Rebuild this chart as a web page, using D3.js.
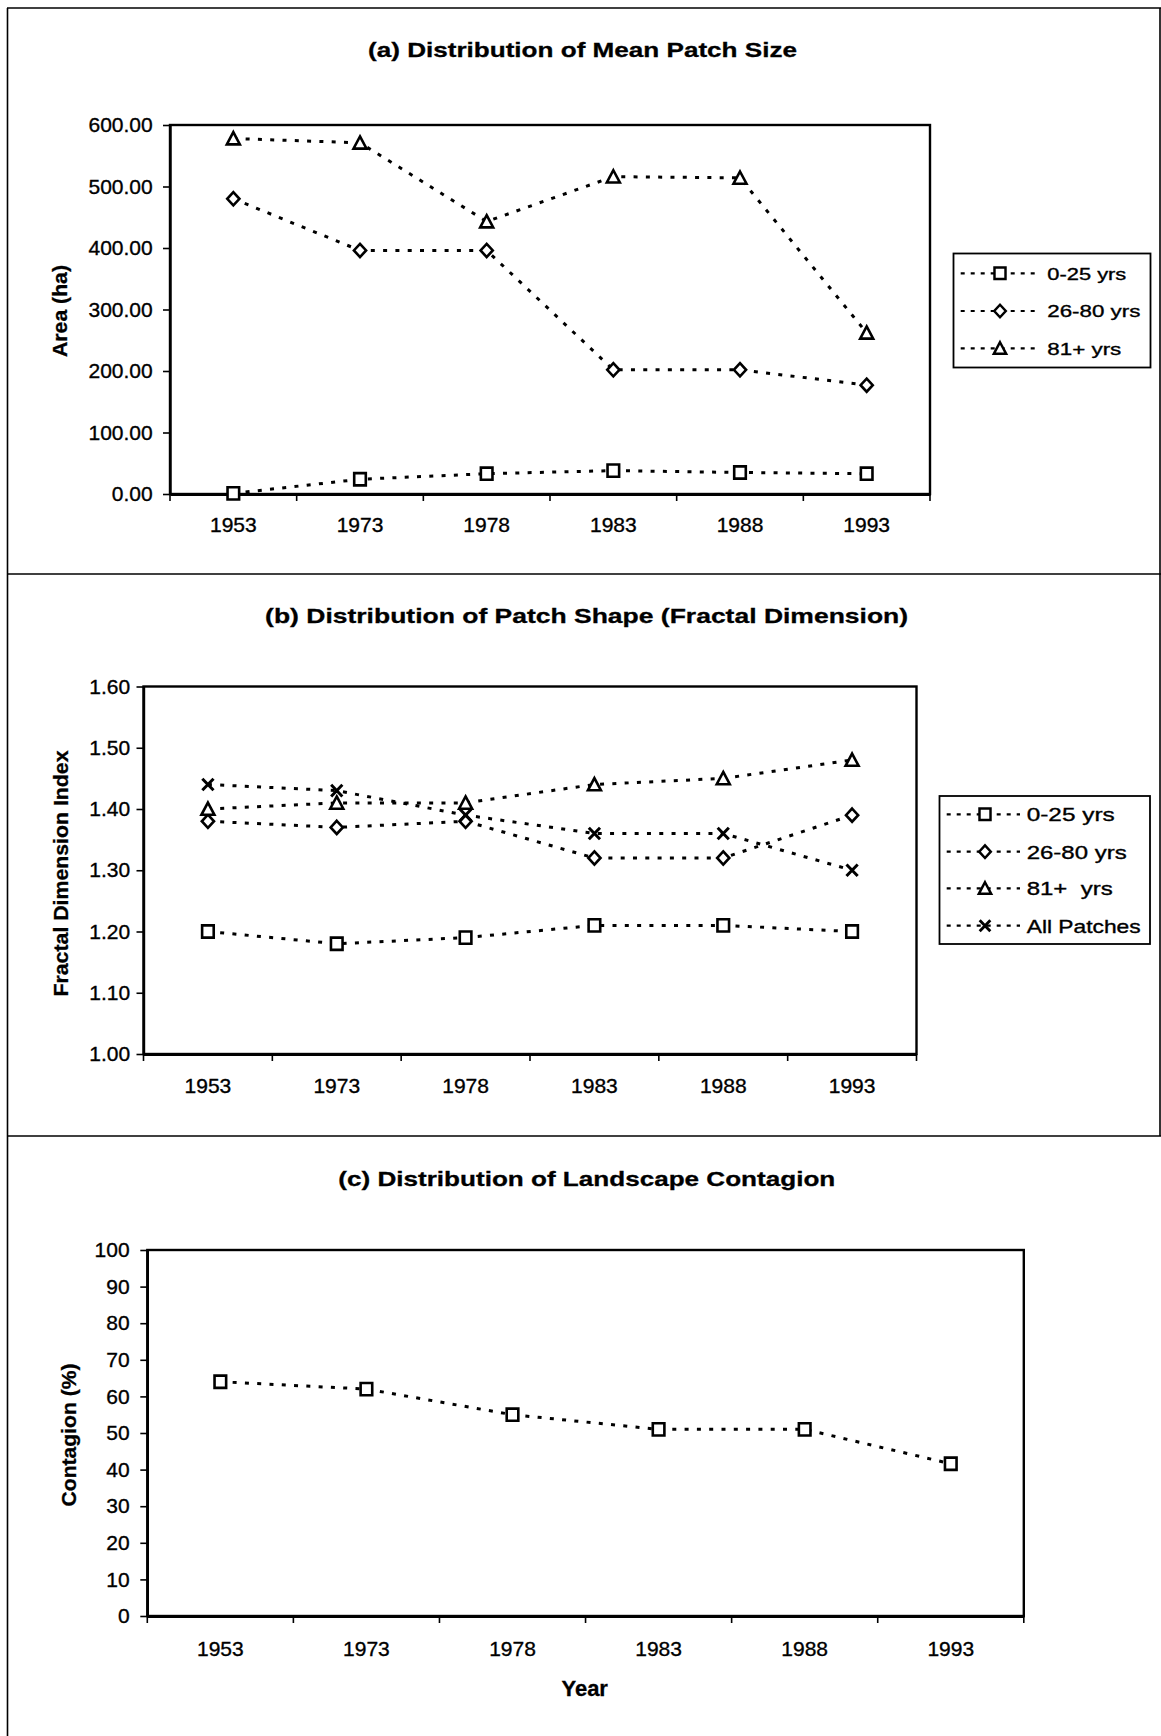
<!DOCTYPE html>
<html>
<head>
<meta charset="utf-8">
<script src="https://cdn.jsdelivr.net/npm/d3@7"></script>
<style>
  html, body { margin: 0; padding: 0; background: #fff; }
  svg { display: block; }
  text { white-space: pre; }
</style>
</head>
<body>
<svg id="chart" width="1161" height="1736"></svg>
<script>
// ---- data ----
const years = ["1953", "1973", "1978", "1983", "1988", "1993"];

// (a) mean patch size, hectares
const sizeYoung = [1, 24, 33, 38, 35, 33];
const sizeMid   = [480, 396, 396, 202, 202, 177];
const sizeOld   = [578, 571, 443, 516, 514, 262];
const sizeTicks = [0, 100, 200, 300, 400, 500, 600];

// (b) fractal dimension index
const shapeYoung = [1.20, 1.18, 1.19, 1.21, 1.21, 1.20];
const shapeMid   = [1.38, 1.37, 1.38, 1.32, 1.32, 1.39];
const shapeOld   = [1.40, 1.41, 1.41, 1.44, 1.45, 1.48];
const shapeAll   = [1.44, 1.43, 1.39, 1.36, 1.36, 1.30];
const shapeTicks = [1.00, 1.10, 1.20, 1.30, 1.40, 1.50, 1.60];

// (c) landscape contagion, percent
const contagion = [64, 62, 55, 51, 51, 41.6];
const contagionTicks = [0, 10, 20, 30, 40, 50, 60, 70, 80, 90, 100];

const ageLabels = ["0-25 yrs", "26-80 yrs", "81+ yrs"];
const ageLabelsB = ["0-25 yrs", "26-80 yrs", "81+  yrs", "All Patches"];

// ---- drawing ----
const FONT = "Arial, 'Liberation Sans', Helvetica, sans-serif";
const svg = d3.select("#chart");
svg.append("rect").attr("width", 1161).attr("height", 1736).attr("fill", "#fff");

// page frame and panel separators
const frame = svg.append("g").attr("stroke", "#000").attr("stroke-width", 1.6).attr("fill", "none");
[8, 574, 1136].forEach(yy => frame.append("line").attr("x1", 7).attr("x2", 1161).attr("y1", yy).attr("y2", yy));
frame.append("line").attr("x1", 7.5).attr("x2", 7.5).attr("y1", 8).attr("y2", 1736);
frame.append("line").attr("x1", 1160).attr("x2", 1160).attr("y1", 8).attr("y2", 1136);

// marker shapes centred on (0,0)
function markerPath(kind) {
  const p = d3.path();
  if (kind === "square") {
    p.rect(-5.8, -6.1, 11.6, 12.2);
  } else if (kind === "diamond") {
    p.moveTo(0, -6.6); p.lineTo(6.1, 0); p.lineTo(0, 6.6); p.lineTo(-6.1, 0); p.closePath();
  } else if (kind === "triangle") {
    p.moveTo(0, -6.4); p.lineTo(6.5, 5.8); p.lineTo(-6.5, 5.8); p.closePath();
  } else if (kind === "x") {
    p.moveTo(-5.6, -5.8); p.lineTo(5.6, 5.8); p.moveTo(5.6, -5.8); p.lineTo(-5.6, 5.8);
  }
  return p.toString();
}
function drawMarker(g, kind, cx, cy, scale = 1) {
  g.append("path")
    .attr("d", markerPath(kind))
    .attr("transform", `translate(${cx},${cy}) scale(${scale})`)
    .attr("fill", kind === "x" ? "none" : "#fff")
    .attr("stroke", "#000")
    .attr("stroke-width", kind === "x" ? 3 : 2.6)
    .attr("stroke-linejoin", "miter");
}

const DOTS = "4 8.3";

// slightly heavy text, like a printed page
function ink(sel, w) {
  return sel.attr("fill", "#000").attr("stroke", "#000").attr("stroke-width", w);
}

function drawPanel(cfg) {
  const g = svg.append("g");
  const x = d3.scaleBand().domain(years).range([cfg.x0, cfg.x1]).padding(0);
  const y = d3.scaleLinear().domain(cfg.domain).range([cfg.y1, cfg.y0]);
  const cx = d => x(d) + x.bandwidth() / 2;

  // title
  ink(g.append("text")
    .attr("x", cfg.titleX).attr("y", cfg.titleY)
    .attr("text-anchor", "middle")
    .attr("font-family", FONT).attr("font-weight", "bold").attr("font-size", 21)
    .attr("textLength", cfg.titleW).attr("lengthAdjust", "spacingAndGlyphs")
    .text(cfg.title), 0.3);

  // plot frame
  g.append("rect")
    .attr("x", cfg.x0).attr("y", cfg.y0)
    .attr("width", cfg.x1 - cfg.x0).attr("height", cfg.y1 - cfg.y0)
    .attr("fill", "none").attr("stroke", "#000").attr("stroke-width", 2.4);

  // y axis
  const yAxis = d3.axisLeft(y).tickValues(cfg.ticks).tickFormat(d3.format(cfg.fmt))
    .tickSizeInner(7).tickSizeOuter(0).tickPadding(cfg.yPad);
  const ya = g.append("g").attr("transform", `translate(${cfg.x0},0)`).call(yAxis);
  ya.select(".domain").attr("stroke-width", 2.4);
  ya.selectAll(".tick line").attr("stroke-width", 1.6);
  ink(ya.selectAll("text").attr("font-family", FONT).attr("font-size", 21), 0.35);

  // x axis labels at category centres
  const xAxis = d3.axisBottom(x).tickSize(0).tickPadding(cfg.xPad);
  const xa = g.append("g").attr("transform", `translate(0,${cfg.y1})`).call(xAxis);
  xa.select(".domain").attr("stroke-width", 2.8);
  ink(xa.selectAll("text").attr("font-family", FONT).attr("font-size", 21), 0.35);

  // x tick marks at category boundaries
  const bounds = years.map(d => x(d)).concat([cfg.x1]);
  g.append("g").selectAll("line").data(bounds).join("line")
    .attr("x1", d => d).attr("x2", d => d)
    .attr("y1", cfg.y1).attr("y2", cfg.y1 + 7)
    .attr("stroke", "#000").attr("stroke-width", 1.6);

  // y axis title
  ink(g.append("text")
    .attr("transform", `translate(${cfg.yTitleX},${cfg.yTitleY}) rotate(-90)`)
    .attr("text-anchor", "middle")
    .attr("font-family", FONT).attr("font-weight", "bold").attr("font-size", 21)
    .attr("textLength", cfg.yTitleW).attr("lengthAdjust", "spacingAndGlyphs")
    .text(cfg.yTitle), 0.3);

  // series
  const line = d3.line().x((v, i) => cx(years[i])).y(v => y(v));
  cfg.series.forEach(s => {
    g.append("path")
      .attr("d", line(s.values))
      .attr("fill", "none").attr("stroke", "#000")
      .attr("stroke-width", 3).attr("stroke-dasharray", DOTS);
  });
  cfg.series.forEach(s => {
    s.values.forEach((v, i) => drawMarker(g, s.marker, cx(years[i]), y(v)));
  });

  // legend
  if (cfg.legend) {
    const L = cfg.legend;
    g.append("rect")
      .attr("x", L.x).attr("y", L.y).attr("width", L.w).attr("height", L.h)
      .attr("fill", "#fff").attr("stroke", "#000").attr("stroke-width", 1.8);
    cfg.series.forEach((s, i) => {
      const ry = L.rows[i];
      g.append("line")
        .attr("x1", L.lineX0).attr("x2", L.lineX1).attr("y1", ry).attr("y2", ry)
        .attr("stroke", "#000").attr("stroke-width", 2.2).attr("stroke-dasharray", "4 6");
      drawMarker(g, s.marker, L.markerX, ry, 0.95);
      ink(g.append("text")
        .attr("x", L.textX).attr("y", ry + L.baseOff)
        .attr("font-family", FONT).attr("font-size", L.fontSize)
        .attr("textLength", L.widths[i]).attr("lengthAdjust", "spacingAndGlyphs")
        .text(s.label), 0.35);
    });
  }

  if (cfg.xTitle) {
    ink(g.append("text")
      .attr("x", cfg.xTitleX).attr("y", cfg.xTitleY)
      .attr("text-anchor", "middle")
      .attr("font-family", FONT).attr("font-weight", "bold").attr("font-size", 22)
      .text(cfg.xTitle), 0.3);
  }
}

// (a) mean patch size
drawPanel({
  title: "(a) Distribution of Mean Patch Size", titleX: 582.5, titleY: 57.3, titleW: 429,
  x0: 170, x1: 930, y0: 125, y1: 494,
  domain: [0, 600], ticks: sizeTicks, fmt: ".2f", yPad: 10.3, xPad: 22.6,
  yTitle: "Area (ha)", yTitleX: 67, yTitleY: 311, yTitleW: 92,
  series: [
    { label: ageLabels[0], values: sizeYoung, marker: "square" },
    { label: ageLabels[1], values: sizeMid, marker: "diamond" },
    { label: ageLabels[2], values: sizeOld, marker: "triangle" }
  ],
  legend: { x: 953.5, y: 253.5, w: 197, h: 114, rows: [273.3, 311, 348.3],
            lineX0: 960.7, lineX1: 1037, markerX: 1000, textX: 1047.3,
            widths: [79, 93, 74], fontSize: 17, baseOff: 6.3 }
});

// (b) patch shape
drawPanel({
  title: "(b) Distribution of Patch Shape (Fractal Dimension)", titleX: 586.6, titleY: 623, titleW: 643,
  x0: 143.5, x1: 916.5, y0: 686.5, y1: 1054,
  domain: [1, 1.6], ticks: shapeTicks, fmt: ".2f", yPad: 6.4, xPad: 23.6,
  yTitle: "Fractal Dimension Index", yTitleX: 67.5, yTitleY: 873.5, yTitleW: 246,
  series: [
    { label: ageLabelsB[0], values: shapeYoung, marker: "square" },
    { label: ageLabelsB[1], values: shapeMid, marker: "diamond" },
    { label: ageLabelsB[2], values: shapeOld, marker: "triangle" },
    { label: ageLabelsB[3], values: shapeAll, marker: "x" }
  ],
  legend: { x: 939.5, y: 796, w: 210.5, h: 148, rows: [814.3, 851.7, 888.3, 925.7],
            lineX0: 946.7, lineX1: 1020, markerX: 985, textX: 1026.7,
            widths: [88, 100, 86, 114], fontSize: 18.5, baseOff: 7 }
});

// (c) landscape contagion
drawPanel({
  title: "(c) Distribution of Landscape Contagion", titleX: 586.8, titleY: 1185.5, titleW: 497,
  x0: 147.3, x1: 1023.8, y0: 1250, y1: 1616,
  domain: [0, 100], ticks: contagionTicks, fmt: "d", yPad: 10.7, xPad: 24.8,
  yTitle: "Contagion (%)", yTitleX: 76, yTitleY: 1435, yTitleW: 143,
  series: [
    { label: "Contagion", values: contagion, marker: "square" }
  ],
  xTitle: "Year", xTitleX: 584.7, xTitleY: 1696
});
</script>
</body>
</html>
